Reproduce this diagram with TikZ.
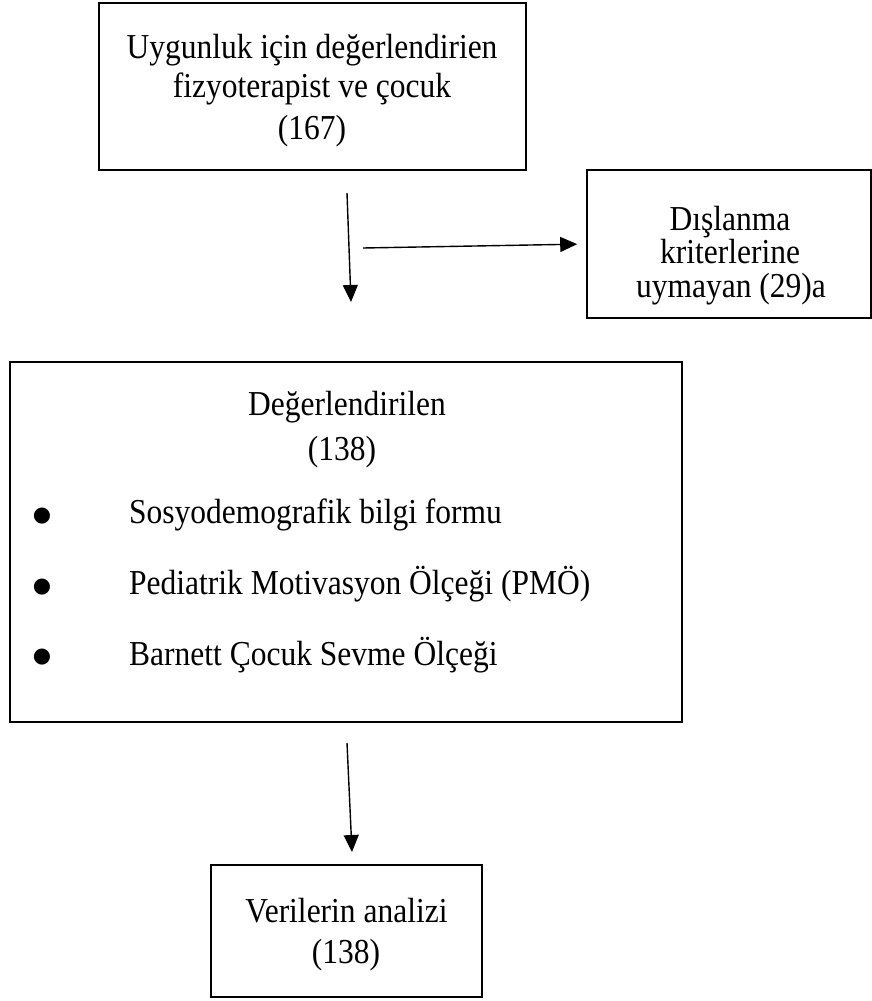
\documentclass[tikz,border=0pt]{standalone}
\usepackage{fontspec}
\setmainfont{Liberation Serif}[FakeStretch=0.9]
\newfontfamily\symfont{DejaVu Sans}
\usetikzlibrary{arrows.meta}
\tikzset{
  box/.style={draw,line width=1.6pt,inner sep=0pt},
  txt/.style={anchor=base,inner sep=0pt,font=\fontsize{35}{40}\selectfont},
  txtL/.style={anchor=base west,inner sep=0pt,font=\fontsize{35}{40}\selectfont},
  bul/.style={inner sep=0pt,font=\symfont\fontsize{21}{21}\selectfont},
  arr/.style={line width=1.4pt,-{Triangle[width=15pt,length=17pt]}}
}
\begin{document}
\begin{tikzpicture}[x=1pt,y=-1pt]
\useasboundingbox (0,0) rectangle (872,1001);
% boxes
\node[box,minimum width=427pt,minimum height=167pt] (b1) at (312.5,86.5) {};
\node[box,minimum width=284pt,minimum height=148pt] (b2) at (729,244) {};
\node[box,minimum width=672pt,minimum height=360pt] (b3) at (346,542) {};
\node[box,minimum width=271pt,minimum height=132pt] (b4) at (346.5,931) {};
% box 1 text
\node[txt] (t1a) at (312,58) {Uygunluk için değerlendirien};
\node[txt] (t1b) at (312,97) {fizyoterapist ve çocuk};
\node[txt] (t1c) at (312,139) {(167)};
% box 2 text
\node[txt] (t2a) at (730,230) {Dışlanma};
\node[txt] (t2b) at (730,263) {kriterlerine};
\node[txt] (t2c) at (731,297) {uymayan (29)a};
% box 3 text
\node[txt] (t3a) at (347,415) {Değerlendirilen};
\node[txt] (t3b) at (342,460) {(138)};
\node[bul] (d1) at (42,516) {●};
\node[bul] (d2) at (42,587) {●};
\node[bul] (d3) at (42,657) {●};
\node[txtL] (t3c) at (129,523) {Sosyodemografik bilgi formu};
\node[txtL] (t3d) at (129,594) {Pediatrik Motivasyon Ölçeği (PMÖ)};
\node[txtL] (t3e) at (129,665) {Barnett Çocuk Sevme Ölçeği};
% box 4 text
\node[txt] (t4a) at (346.5,922) {Verilerin analizi};
\node[txt] (t4b) at (346,963) {(138)};
% connector ends
\coordinate (a1s) at (347,193);
\coordinate (a1e) at (351,302);
\coordinate (a2s) at (363,248);
\coordinate (a3s) at (347,743);
\coordinate (a3e) at (352,852);
% connectors
\draw[arr] (a1s) -- (a1e);
\draw[arr,shorten >=9pt] (a2s) -- (b2.west);
\draw[arr] (a3s) -- (a3e);
\end{tikzpicture}
\end{document}
